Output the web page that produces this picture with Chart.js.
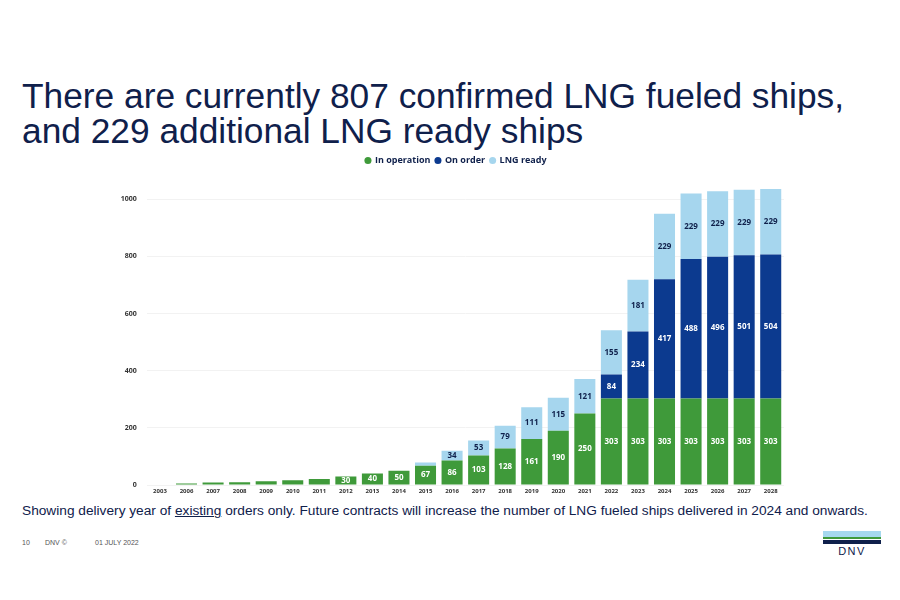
<!DOCTYPE html>
<html>
<head>
<meta charset="utf-8">
<script src="https://cdn.jsdelivr.net/npm/chart.js@4.4.1/dist/chart.umd.min.js"></script>
<style>
  body { margin: 0; width: 900px; height: 600px; background: #fff; position: relative; overflow: hidden; font-family: "Liberation Sans", Arial, sans-serif; }
  h1 { position: absolute; left: 22px; top: 78px; margin: 0; font-weight: normal; font-size: 35.3px; line-height: 35px; color: #0f204b; white-space: nowrap; }
  #wrap { position: absolute; left: 80px; top: 151px; width: 720px; height: 349px; }
  .note { position: absolute; left: 22px; top: 503px; font-size: 13.7px; color: #0f204b; white-space: nowrap; }
  .note u { text-decoration-thickness: 1px; }
  .foot { position: absolute; top: 539px; font-size: 7px; color: #555; }
  .logo { position: absolute; left: 823px; width: 58px; }
  .dnv { position: absolute; left: 823px; width: 58px; top: 545px; text-align: center; font-size: 11px; letter-spacing: 1.5px; color: #0f204b; }
</style>
</head>
<body>
<h1>There are currently 807 confirmed LNG fueled ships,<br>and 229 additional LNG ready ships</h1>
<div id="wrap"><canvas id="myChart"></canvas></div>
<div class="note">Showing delivery year of <u>existing</u> orders only. Future contracts will increase the number of LNG fueled ships delivered in 2024 and onwards.</div>
<div class="foot" style="left:22px">10</div>
<div class="foot" style="left:45px">DNV ©</div>
<div class="foot" style="left:95px">01 JULY 2022</div>
<div class="logo" style="top:531px;height:6px;background:#a6d8ee"></div>
<div class="logo" style="top:537px;height:2px;background:#3f9a3a"></div>
<div class="logo" style="top:540px;height:4px;background:#0f204b"></div>
<div class="dnv">DNV</div>
<script>
// categorias (anios)
const years = ['2003', '2006', '2007', '2008', '2009', '2010', '2011', '2012', '2013', '2014', '2015', '2016',
  '2017', '2018', '2019', '2020', '2021', '2022', '2023', '2024', '2025', '2026', '2027', '2028']
// series
const inOperation = [2, 5, 9, 10, 13, 17, 21, 30, 40, 50, 67, 86, 103, 128, 161, 190, 250, 303, 303, 303, 303, 303, 303, 303]
const onOrder = [0, 0, 0, 0, 0, 0, 0, 0, 0, 0, 0, 0, 0, 0, 0, 0, 0, 84, 234, 417, 488, 496, 501, 504]
const lngReady = [0, 0, 0, 0, 0, 0, 0, 0, 0, 0, 12, 34, 53, 79, 111, 115, 121, 155, 181, 229, 229, 229, 229, 229]
const yTicks = [0, 200, 400, 600, 800, 1000]

const labelColors = ['#ffffff', '#ffffff', '#0f204b']

// etiquetas dentro de las barras
const barLabels = {
  id: 'barLabels',
  afterDatasetsDraw(chart) {
    const ctx = chart.ctx
    ctx.save()
    ctx.font = 'bold 8px "Open Sans"'
    ctx.textAlign = 'center'
    ctx.textBaseline = 'middle'
    chart.data.datasets.forEach((ds, i) => {
      const meta = chart.getDatasetMeta(i)
      meta.data.forEach((bar, j) => {
        const v = ds.data[j]
        if (v < 25) return
        ctx.fillStyle = labelColors[i]
        ctx.fillText(v, bar.x, (bar.y + bar.base) / 2)
      })
    })
    ctx.restore()
  }
}

// espacio extra bajo la leyenda, y leyenda un poco a la derecha
const legendGap = {
  id: 'legendGap',
  beforeLayout(chart) {
    const lg = chart.legend
    if (!lg || lg._gapDone) return
    const fit = lg.fit
    lg.fit = function () { fit.call(this); this.height += 10 }
    lg._gapDone = true
  },
  afterLayout(chart) {
    const lg = chart.legend
    if (!lg) return
    lg.left += 24
    lg.right += 24
  }
}

new Chart('myChart', {
  type: 'bar',
  data: {
    labels: years,
    datasets: [
      { label: 'In operation', data: inOperation, backgroundColor: '#3f9a3a' },
      { label: 'On order', data: onOrder, backgroundColor: '#0c3a8f' },
      { label: 'LNG ready', data: lngReady, backgroundColor: '#a6d6ee' }
    ]
  },
  options: {
    responsive: true,
    maintainAspectRatio: false,
    animation: false,
    layout: { padding: { left: 0, right: 16, top: 0 } },
    datasets: { bar: { categoryPercentage: 0.88, barPercentage: 0.9 } },
    plugins: {
      tooltip: { enabled: false },
      legend: {
        position: 'top',
        labels: {
          usePointStyle: true,
          pointStyle: 'circle',
          boxWidth: 5,
          boxHeight: 5,
          padding: 5,
          color: '#0f204b',
          font: { family: 'Open Sans', size: 9, weight: 'bold' }
        }
      }
    },
    scales: {
      x: {
        stacked: true,
        grid: { display: false, drawTicks: false },
        border: { display: false },
        afterFit(scale) { scale.height = 15 },
        ticks: { padding: 3, color: '#333', maxRotation: 0, autoSkip: false, font: { family: 'Open Sans', size: 6, weight: 'bold' } }
      },
      y: {
        stacked: true,
        min: 0,
        max: 1050,
        afterFit(scale) { scale.width = 66.7 },
        afterBuildTicks(scale) { scale.ticks = yTicks.map(v => ({ value: v })) },
        grid: { color: '#f2f2f2', drawTicks: false },
        border: { display: false },
        ticks: { padding: 10, color: '#333', callback: v => String(v), font: { family: 'Open Sans', size: 7, weight: 'bold' } }
      }
    }
  },
  plugins: [barLabels, legendGap]
})
</script>
</body>
</html>
